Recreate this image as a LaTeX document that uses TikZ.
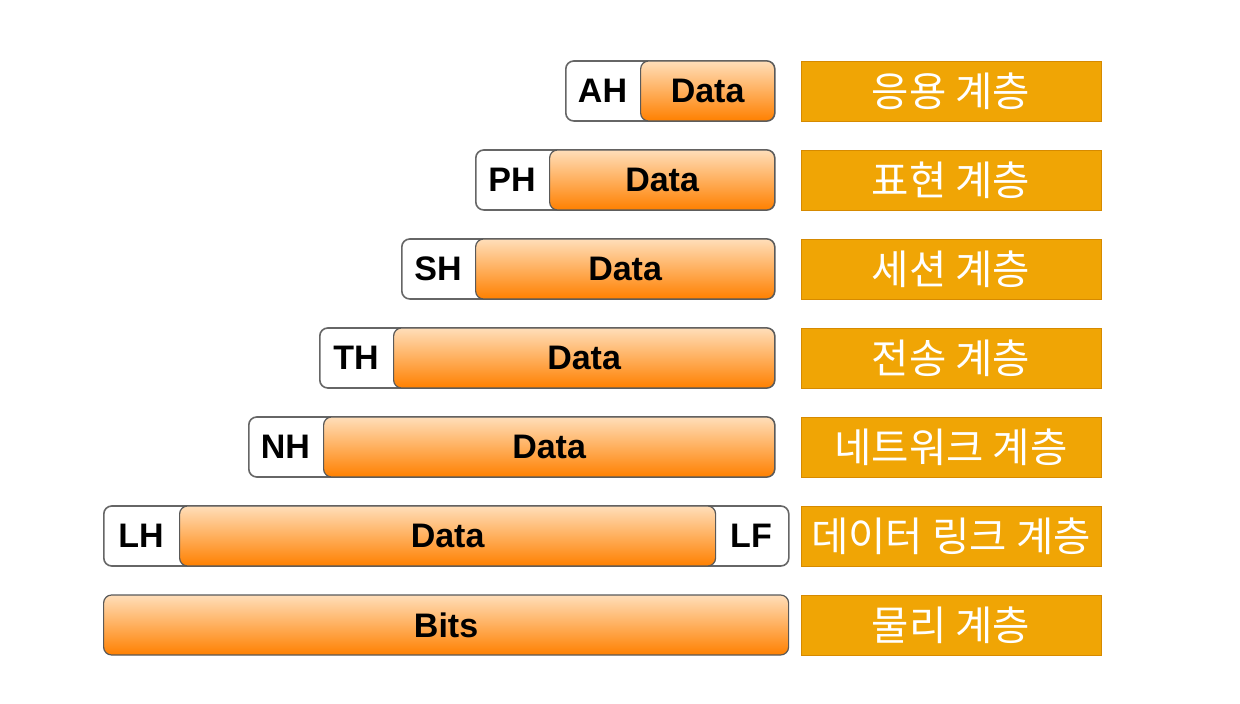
\documentclass[tikz,border=0pt]{standalone}
\usepackage{fontspec}
\setmainfont{Liberation Sans}
\newfontfamily\krfont{Noto Sans CJK KR}
\definecolor{datatop}{RGB}{255,222,185}
\definecolor{databot}{RGB}{255,128,0}
\definecolor{layerfill}{RGB}{240,165,5}
\definecolor{layerline}{RGB}{214,138,0}
\tikzset{
  pktbox/.style={draw=black!60, line width=0.8pt, fill=white, rounded corners=4pt,
    minimum height=30pt, inner sep=0pt, anchor=west},
  databox/.style={draw=black!65, line width=0.6pt, top color=datatop, bottom color=databot,
    rounded corners=4pt, minimum height=30pt, inner sep=0pt, anchor=west,
    font=\fontsize{17}{20}\selectfont\bfseries},
  hdrtext/.style={font=\fontsize{17}{20}\selectfont\bfseries},
  layerbox/.style={draw=layerline, fill=layerfill, minimum width=150pt, minimum height=30pt,
    inner sep=0pt, text=white, font=\krfont\fontsize{20.3}{22}\selectfont}
}
\begin{document}
\begin{tikzpicture}[x=0.5pt, y=-0.5pt]
  \useasboundingbox (0,0) rectangle (1240,704);
  % pacchetti con header
  \foreach \hname/\xl/\xd [count=\i] in {AH/565/640, PH/475/549, SH/401/475, TH/319/393, NH/248/323} {
    \pgfmathsetmacro\yc{91+89*(\i-1)}
    \node[pktbox, minimum width={(774-\xl)*0.5pt}] (pkt\i) at (\xl,\yc) {};
    \node[databox, minimum width={(774-\xd)*0.5pt}] (data\i) at (\xd,\yc) {Data};
    \node[hdrtext] (hdr\i) at ({(\xl+\xd)/2},\yc) {\hname};
  }
  % livello data link
  \node[pktbox, minimum width=342.5pt] (pkt6) at (103,536) {};
  \node[databox, minimum width=268pt] (data6) at (179,536) {Data};
  \node[hdrtext] (hdr6) at (141,536) {LH};
  \node[hdrtext] (trl6) at (751,536) {LF};
  % livello fisico
  \node[databox, minimum width=342.5pt] (data7) at (103,625) {Bits};
  % nomi dei livelli
  \foreach \lname [count=\i] in {응용 계층, 표현 계층, 세션 계층, 전송 계층, 네트워크 계층, 데이터 링크 계층, 물리 계층}
    \node[layerbox] (layer\i) at (951,{91+89*(\i-1)}) {\lname};
\end{tikzpicture}
\end{document}
